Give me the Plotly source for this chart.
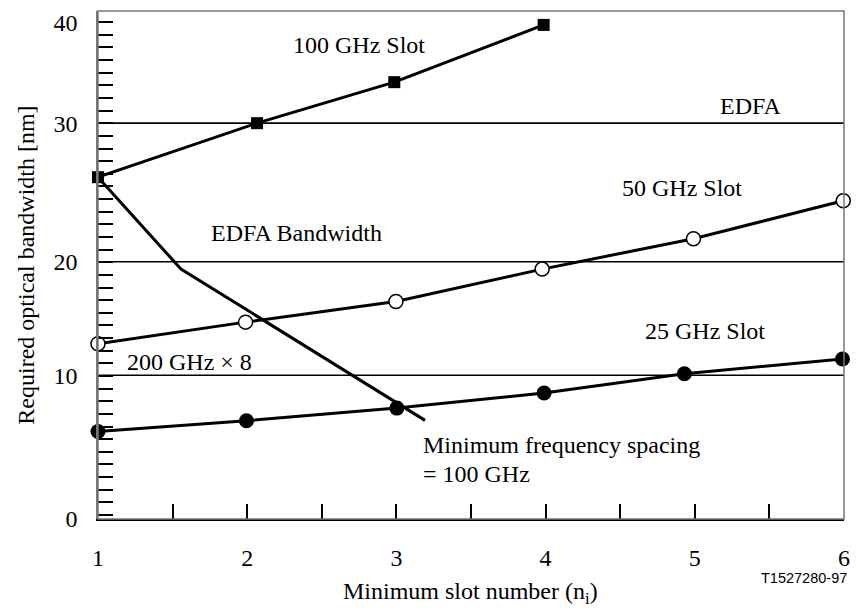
import plotly.graph_objects as go

# ---- data ----
slot_100_x = [1.0, 2.066, 2.986, 3.987]
slot_100_y = [27.52, 31.87, 35.17, 39.78]

slot_50_x = [1.0, 1.989, 2.997, 3.977, 4.991, 5.995]
slot_50_y = [14.11, 15.85, 17.51, 20.12, 22.56, 25.62]

slot_25_x = [1.0, 1.995, 3.003, 3.99, 4.93, 5.99]
slot_25_y = [7.05, 7.91, 8.93, 10.14, 11.69, 12.88]

min_spacing_x = [1.0, 1.556, 3.192]
min_spacing_y = [27.52, 20.12, 7.94]

ref_levels = [31.87, 20.71, 11.57]          # EDFA / EDFA bandwidth / 200 GHz x 8
ytick_vals = [0, 11.57, 20.71, 31.87, 40.0]
ytick_text = ["0", "10", "20", "30", "40"]
xtick_vals = [1, 2, 3, 4, 5, 6]
xtick_text = ["1", "2", "3", "4", "5", "6"]

FONT = "Liberation Serif, Times New Roman, serif"
FS = 24

fig = go.Figure()

for lv in ref_levels:
    fig.add_shape(type="line", xref="x domain", yref="y", x0=0, x1=1, y0=lv, y1=lv,
                  line=dict(color="black", width=1.6), layer="below")

fig.add_trace(go.Scatter(x=min_spacing_x, y=min_spacing_y, mode="lines",
                         line=dict(color="black", width=3), cliponaxis=False, hoverinfo="skip"))
fig.add_trace(go.Scatter(x=slot_100_x, y=slot_100_y, mode="lines+markers",
                         line=dict(color="black", width=3),
                         marker=dict(symbol="square", size=12, color="black"),
                         cliponaxis=False))
fig.add_trace(go.Scatter(x=slot_50_x, y=slot_50_y, mode="lines+markers",
                         line=dict(color="black", width=3),
                         marker=dict(symbol="circle", size=14, color="white",
                                     line=dict(color="black", width=1.5)),
                         cliponaxis=False))
fig.add_trace(go.Scatter(x=slot_25_x, y=slot_25_y, mode="lines+markers",
                         line=dict(color="black", width=3),
                         marker=dict(symbol="circle", size=15, color="black"),
                         cliponaxis=False))

# frame (gray top/right/left)
fig.add_shape(type="rect", xref="x domain", yref="y domain", x0=0, x1=1, y0=0, y1=1,
              line=dict(color="#777777", width=1.5), layer="above")

labels = [
    ("100 GHz Slot", 2.749, 38.17, "center"),
    ("EDFA", 5.375, 33.26, "center"),
    ("50 GHz Slot", 4.916, 26.67, "center"),
    ("EDFA Bandwidth", 2.33, 23.02, "center"),
    ("200 GHz \u00d7 8", 1.615, 12.68, "center"),
    ("25 GHz Slot", 5.069, 15.10, "center"),
    ("Minimum frequency spacing", 3.168, 5.98, "left"),
    ("= 100 GHz", 3.168, 3.65, "left"),
]
for txt, x, y, anc in labels:
    fig.add_annotation(text=txt, x=x, y=y, xref="x", yref="y", xanchor=anc, yanchor="middle",
                       showarrow=False, font=dict(family=FONT, size=FS, color="black"))

fig.add_annotation(text="Required optical bandwidth [nm]", xref="paper", yref="paper",
                   x=-0.097, y=0.5, textangle=-90, showarrow=False,
                   xanchor="center", yanchor="middle",
                   font=dict(family=FONT, size=FS, color="black"))
fig.add_annotation(text="Minimum slot number (n<sub>i</sub>)", xref="paper", yref="paper",
                   x=0.499, y=-0.146, showarrow=False, xanchor="center", yanchor="middle",
                   font=dict(family=FONT, size=FS, color="black"))
fig.add_annotation(text="T1527280-97", xref="paper", yref="paper",
                   x=1.0066, y=-0.117, showarrow=False, xanchor="right", yanchor="middle",
                   font=dict(family="Liberation Sans, Arial, sans-serif", size=14.5, color="black"))

fig.update_layout(
    width=858, height=610,
    margin=dict(l=98, r=8, t=11, b=91),
    paper_bgcolor="white", plot_bgcolor="white",
    showlegend=False,
    xaxis=dict(range=[1, 6], tickmode="array", tickvals=xtick_vals, ticktext=xtick_text,
               ticks="inside", ticklen=15, tickwidth=2, tickcolor="black",
               ticklabelstandoff=16,
               minor=dict(ticks="inside", ticklen=15, tickwidth=2, tickcolor="black",
                          tickmode="linear", tick0=1, dtick=0.5),
               showline=True, linecolor="black", linewidth=2,
               showgrid=False, zeroline=False,
               tickfont=dict(family=FONT, size=FS, color="black")),
    yaxis=dict(range=[0, 40.9], tickmode="array", tickvals=ytick_vals, ticktext=ytick_text,
               ticks="", ticklabelstandoff=14,
               minor=dict(ticks="inside", ticklen=15, tickwidth=2, tickcolor="black",
                          tickmode="linear", tick0=1.34, dtick=1.0174),
               showline=True, linecolor="#777777", linewidth=1.5,
               showgrid=False, zeroline=False,
               tickfont=dict(family=FONT, size=FS, color="black")),
)

fig.write_html("out.html", config={"displayModeBar": False},
               post_script="document.body.style.margin='0';document.body.style.overflow='hidden';")
